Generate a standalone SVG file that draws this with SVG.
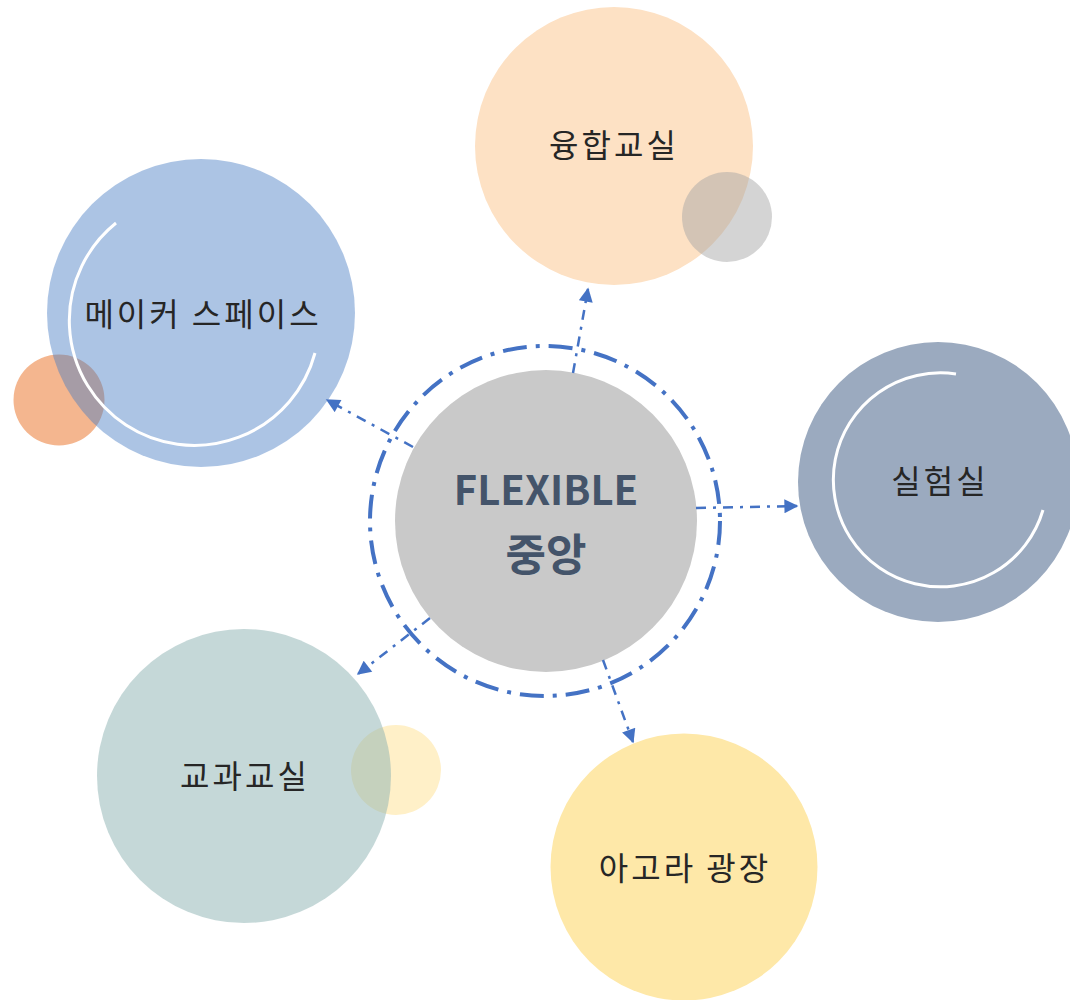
<svg xmlns="http://www.w3.org/2000/svg" width="1070" height="1000" viewBox="0 0 1070 1000">
<style>
.lbl{font-family:"Noto Sans CJK KR","Noto Sans",sans-serif;font-size:32px;letter-spacing:3px;fill:#262626;text-anchor:middle}
.ctr{font-family:"Noto Sans CJK KR","Noto Sans",sans-serif;font-weight:bold;fill:#44546A;text-anchor:middle}
.arc{fill:none;stroke:#FFFFFF;stroke-width:3}
.con{fill:none;stroke:#4472C4;stroke-width:2.5;stroke-dasharray:10 7 3 7;marker-end:url(#ah)}
</style>
<defs>
<marker id="ah" viewBox="0 0 10 10" refX="9" refY="5" markerUnits="userSpaceOnUse" markerWidth="15" markerHeight="14" orient="auto">
<path d="M0,0 L10,5 L0,10 z" fill="#4472C4"/>
</marker>
</defs>
<rect width="1070" height="1000" fill="#FFFFFF"/>

<g id="node-yunghap">
<circle cx="614" cy="146" r="139" fill="#FDE1C4"/>
<circle cx="727" cy="217" r="45" fill="#A5A5A5" fill-opacity="0.48"/>
<text class="lbl" x="614" y="157">융합교실</text>
</g>

<g id="node-maker">
<circle cx="59" cy="400" r="45.5" fill="#F4B68F"/>
<circle cx="201" cy="313" r="154" fill="#467CC4" fill-opacity="0.45"/>
<path class="arc" d="M116,223 A125,125 0 1 0 315,353"/>
<text class="lbl" x="203" y="326">메이커 스페이스</text>
</g>

<g id="node-lab">
<circle cx="938" cy="482" r="140" fill="#9BAABF"/>
<path class="arc" d="M956,374 A107,107 0 1 0 1043,510"/>
<text class="lbl" x="940" y="493">실험실</text>
</g>

<g id="node-classroom">
<circle cx="396" cy="770" r="45" fill="#FFF0C8"/>
<circle cx="244" cy="776" r="147" fill="#8BB1B1" fill-opacity="0.5"/>
<text class="lbl" x="245" y="788">교과교실</text>
</g>

<g id="node-agora">
<circle cx="684" cy="867" r="133.5" fill="#FEE8A8"/>
<text class="lbl" x="685" y="880">아고라 광장</text>
</g>

<g id="node-center">
<circle cx="546" cy="521" r="151" fill="#C9C9C9"/>
<text class="ctr" x="546" y="505" font-size="40">FLEXIBLE</text>
<text class="ctr" x="546" y="571" font-size="44">중앙</text>
</g>

<g id="connectors">
<circle cx="545" cy="521" r="175" fill="none" stroke="#4472C4" stroke-width="4" stroke-dasharray="24 9 4 9"/>
<path class="con" d="M573,373 L588,289"/>
<path class="con" d="M413,447 L327,400"/>
<path class="con" d="M696,508 L797,506"/>
<path class="con" d="M430,618 L358,674"/>
<path class="con" d="M603,660 L633,742"/>
</g>
</svg>
